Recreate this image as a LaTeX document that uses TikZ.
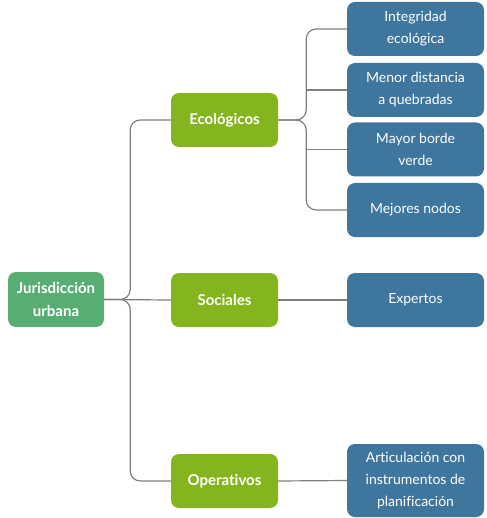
\documentclass[tikz,border=0pt]{standalone}
\usepackage{fontspec}
\setmainfont{Lato}[Ligatures=CommonOff]
\definecolor{rootgreen}{HTML}{58AE72}
\definecolor{limegreen}{HTML}{84B51E}
\definecolor{boxblue}{HTML}{3E769E}
\definecolor{linegray}{HTML}{7F7F7F}
\begin{document}
\begin{tikzpicture}[x=1pt,y=-1pt,
  box/.style={rounded corners=8pt, text=white, align=center, inner sep=0pt,
    font=\fontsize{14}{22}\selectfont},
  rootbox/.style={box, fill=rootgreen, minimum width=96pt, minimum height=55pt,
    font=\fontsize{15}{23}\selectfont\bfseries},
  catbox/.style={box, fill=limegreen, minimum width=107pt, minimum height=54pt,
    font=\fontsize{15}{23}\selectfont\bfseries},
  itembox/.style={box, fill=boxblue, minimum width=137pt, minimum height=54pt},
  link/.style={draw=linegray, line width=1.2pt, rounded corners=10pt}]
\useasboundingbox (0,0) rectangle (486,518);

% root and category nodes
\node[rootbox] (root) at (56,299.5) {Jurisdicción\\urbana};
\node[catbox] (eco) at (224.5,120) {Ecológicos};
\node[catbox] (soc) at (224.5,300) {Sociales};
\node[catbox] (ope) at (224.5,481) {Operativos};

% criteria
\node[itembox] (b1) at (415.5,29) {Integridad\\ecológica};
\node[itembox] (b2) at (415.5,90) {Menor distancia\\a quebradas};
\node[itembox] (b3) at (415.5,149.5) {Mayor borde\\verde};
\node[itembox] (b4) at (415.5,210) {Mejores nodos};
\node[itembox] (exp) at (415.5,300) {Expertos};
\node[itembox, minimum height=73pt] (art) at (415.5,480.5) {Articulación con\\instrumentos de\\planificación};

% connectors from the root
\draw[link] (root.east) -- ++(26,0) |- (eco.west);
\draw[link] (root.east) -- ++(26,0) |- (ope.west);
\draw[link] (root.east) -- (soc.west);

% connectors from the ecological group
\coordinate (ej) at ([xshift=28pt]eco.east);
\draw[link] (eco.east) -- (ej) |- (b1.west);
\draw[link] (eco.east) -- (ej) |- (b4.west);
\draw[link] (b2.west) -- (b2.west -| ej);
\draw[link] (b3.west) -- (b3.west -| ej);

% single links
\draw[link] (soc.east) -- (exp.west);
\draw[link] (ope.east) -- (art.west);
\end{tikzpicture}
\end{document}
